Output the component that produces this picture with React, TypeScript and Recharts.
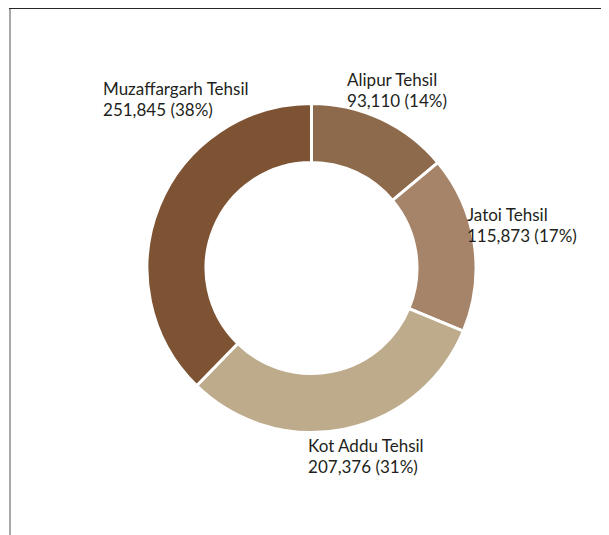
import React from "react";
import { PieChart, Pie, Cell } from "recharts";

const categories = ["Alipur Tehsil", "Jatoi Tehsil", "Kot Addu Tehsil", "Muzaffargarh Tehsil"];
const values = [93110, 115873, 207376, 251845];
const percentLabels = ["14%", "17%", "31%", "38%"];
const colors = ["#8D6A4B", "#A5846A", "#BEAB8B", "#7D5334"];
// label anchor (left x, first-line baseline) relative to centre, in units of outer radius
const labelAnchors = [
  [0.218, -1.117],
  [0.954, -0.288],
  [-0.021, 1.129],
  [-1.279, -1.061],
];

const data = categories.map((name, i) => ({ name, value: values[i], pct: percentLabels[i] }));

const W = 601;
const H = 527;
const CX = 303.5;
const CY = 260;
const OUTER = 164.5;
const INNER = 105.5;

const renderLabel = (props: any) => {
  const { cx, cy, index } = props;
  const [fx, fy] = labelAnchors[index];
  const x = cx + fx * 163;
  const y = cy + fy * 163;
  const d = data[index];
  return (
    <text
      key={"lbl" + index}
      x={x}
      y={y}
      fill="#231f20"
      fontSize={17}
      fontFamily="Lato, 'Open Sans', sans-serif"
      textAnchor="start"
    >
      <tspan x={x} y={y}>{d.name}</tspan>
      <tspan x={x} y={y + 21}>{d.value.toLocaleString("en-US") + " (" + d.pct + ")"}</tspan>
    </text>
  );
};

export default function App() {
  return (
    <div style={{ position: "relative", width: W, height: H, background: "#fff" }}>
      <div style={{ position: "absolute", left: 1, top: -1, width: W, height: 2, background: "#262626" }} />
      <div style={{ position: "absolute", left: 1, top: 1, width: 1.5, height: H, background: "#a8a8a8" }} />
      <div style={{ position: "absolute", left: 0, top: 0 }}>
        <PieChart width={W} height={H} margin={{ top: 0, right: 0, bottom: 0, left: 0 }}>
          <Pie
            data={data}
            dataKey="value"
            cx={CX}
            cy={CY}
            innerRadius={INNER}
            outerRadius={OUTER}
            startAngle={90}
            endAngle={-270}
            fill="none"
            stroke="none"
            label={renderLabel}
            labelLine={false}
            isAnimationActive={false}
          />
          <Pie
            data={data}
            dataKey="value"
            cx={CX}
            cy={CY}
            innerRadius={INNER}
            outerRadius={OUTER}
            startAngle={90}
            endAngle={-270}
            stroke="#ffffff"
            strokeWidth={3}
            isAnimationActive={false}
          >
            {data.map((d, i) => (
              <Cell key={d.name} fill={colors[i]} />
            ))}
          </Pie>
        </PieChart>
      </div>
    </div>
  );
}
